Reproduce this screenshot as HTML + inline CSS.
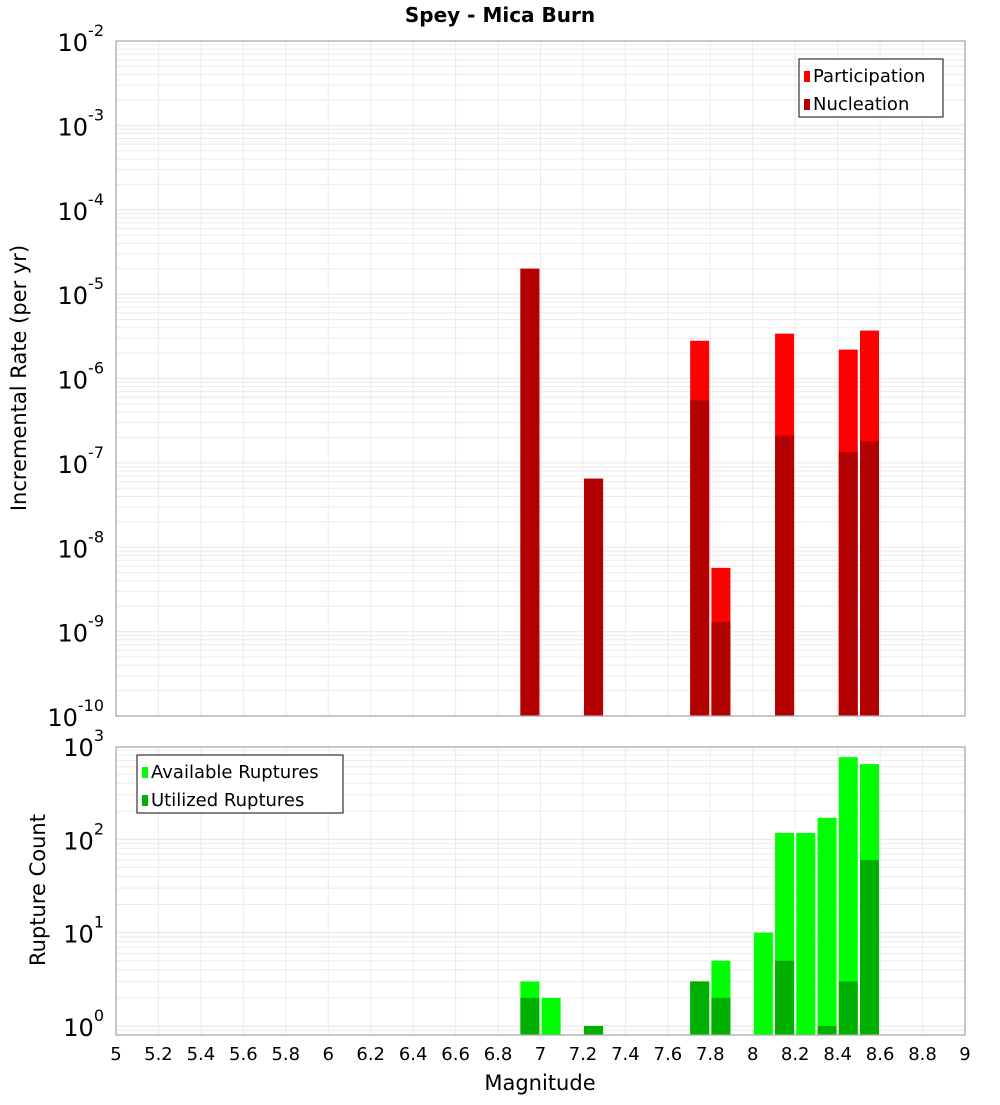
<!DOCTYPE html>
<html><head><meta charset="utf-8"><style>
body{margin:0;background:#fff;font-family:"Liberation Sans","DejaVu Sans",sans-serif}
svg text{font-family:"DejaVu Sans","Liberation Sans",sans-serif}
</style></head><body>
<svg id="chart" width="1000" height="1100" viewBox="0 0 1000 1100" xmlns="http://www.w3.org/2000/svg">
<text x="500" y="22" text-anchor="middle" font-size="20" font-weight="bold">Spey - Mica Burn</text>
<g id="gtop"></g><g id="gbot"></g>
<text x="540" y="1090" text-anchor="middle" font-size="21">Magnitude</text>
<text transform="translate(26,378) rotate(-90)" text-anchor="middle" font-size="21">Incremental Rate (per yr)</text>
<text transform="translate(45,890) rotate(-90)" text-anchor="middle" font-size="21">Rupture Count</text>
</svg>
<script>
const mags=[6.95,7.05,7.25,7.75,7.85,8.05,8.15,8.25,8.35,8.45,8.55];
const participation=[2e-5,null,6.5e-8,2.8e-6,5.7e-9,null,3.4e-6,null,null,2.2e-6,3.7e-6];
const nucleation=[2e-5,null,6.5e-8,5.5e-7,1.3e-9,null,2.1e-7,null,null,1.35e-7,1.8e-7];
const available=[3,2,1,3,5,10,117,117,170,760,640];
const utilized=[2,0,1,3,2,0,5,0,1,3,60];
const xTicks=["5","5.2","5.4","5.6","5.8","6","6.2","6.4","6.6","6.8","7","7.2","7.4","7.6","7.8","8","8.2","8.4","8.6","8.8","9"];
const NS="http://www.w3.org/2000/svg";
const X0=116,X1=965;
const x=m=>X0+(m-5)/4*(X1-X0);
function mk(p,tag,at){const e=document.createElementNS(NS,tag);for(const k in at)e.setAttribute(k,at[k]);p.appendChild(e);return e;}
function panel(g,pTop,pBottom,lmin,lmax,yTop,yBot,decs){
  const y=v=>yBot-(Math.log10(v)-lmin)/(lmax-lmin)*(yBot-yTop);
  const bg=mk(g,'rect',{x:X0,y:pTop,width:X1-X0,height:pBottom-pTop,fill:'#fff'});
  
  
  for(let d=Math.floor(lmin);d<lmax;d++)for(let k=1;k<10;k++){const v=k*Math.pow(10,d);const lv=Math.log10(v);if(lv<lmin||lv>lmax)continue;const yy=y(v);
    const l=mk(g,'line',{x1:X0,x2:X1,y1:yy,y2:yy,stroke:'#ebebeb','stroke-width':k==1?1.3:1});
    
    }
  for(let i=0;i<xTicks.length;i++){const xx=x(parseFloat(xTicks[i]));
    const l=mk(g,'line',{x1:xx,x2:xx,y1:pTop,y2:pBottom,stroke:'#ebebeb','stroke-width':1});
    
    }
  decs.forEach(d=>{const yy=y(Math.pow(10,d));
    const t=mk(g,'text',{x:104,y:yy+10,'text-anchor':'end','font-size':24});
    
    
    t.textContent='10';
    const s=mk(t,'tspan',{dy:-15,'font-size':16});s.textContent=String(d);});
  return y;
}
const gTop=document.getElementById('gtop'),gBot=document.getElementById('gbot');
const yT=panel(gTop,41,716,-10,-2,41,716,[-2,-3,-4,-5,-6,-7,-8,-9,-10]);
const bw=19;
mags.forEach((m,i)=>{
  if(participation[i]){const r=mk(gTop,'rect',{x:x(m)-bw/2,y:yT(participation[i]),width:bw,height:716-yT(participation[i]),fill:'#ff0000'});
    
    }
  if(nucleation[i]){const r=mk(gTop,'rect',{x:x(m)-bw/2,y:yT(nucleation[i]),width:bw,height:716-yT(nucleation[i]),fill:'#b30000'});
    
    }
});
mk(gTop,'rect',{x:X0,y:41,width:X1-X0,height:675,fill:'none',stroke:'#aaa','stroke-width':1.3});
const yB=panel(gBot,747,1035,-0.097,3,746,1035,[3,2,1,0]);
mags.forEach((m,i)=>{
  if(available[i]>0){const r=mk(gBot,'rect',{x:x(m)-bw/2,y:yB(available[i]),width:bw,height:1035-yB(available[i]),fill:'#00ff00'});
    
    }
  if(utilized[i]>0){const r=mk(gBot,'rect',{x:x(m)-bw/2,y:yB(utilized[i]),width:bw,height:1035-yB(utilized[i]),fill:'#00b000'});
    
    }
});
mk(gBot,'rect',{x:X0,y:747,width:X1-X0,height:288,fill:'none',stroke:'#aaa','stroke-width':1.3});
xTicks.forEach(t=>{const e=mk(gBot,'text',{x:x(parseFloat(t)),y:1060,'text-anchor':'middle','font-size':18});
  
  
  e.textContent=t;});
function legend(g,lx,ly,w,items){
  const b=mk(g,'rect',{x:lx,y:ly,width:w,height:58,fill:'#fff',stroke:'#333','stroke-width':1.2});
  
  
  items.forEach((it,i)=>{
    const s=mk(g,'rect',{x:lx+5,y:ly+12+i*28,width:6,height:11,fill:it[1]});
    
    
    const t=mk(g,'text',{x:lx+14,y:ly+23+i*28,'font-size':18});
    
    
    t.textContent=it[0];});
}
legend(gTop,799,59,144,[["Participation","#ff0000"],["Nucleation","#b30000"]]);
legend(gBot,137,755,206,[["Available Ruptures","#00ff00"],["Utilized Ruptures","#00b000"]]);
</script>
</body></html>
